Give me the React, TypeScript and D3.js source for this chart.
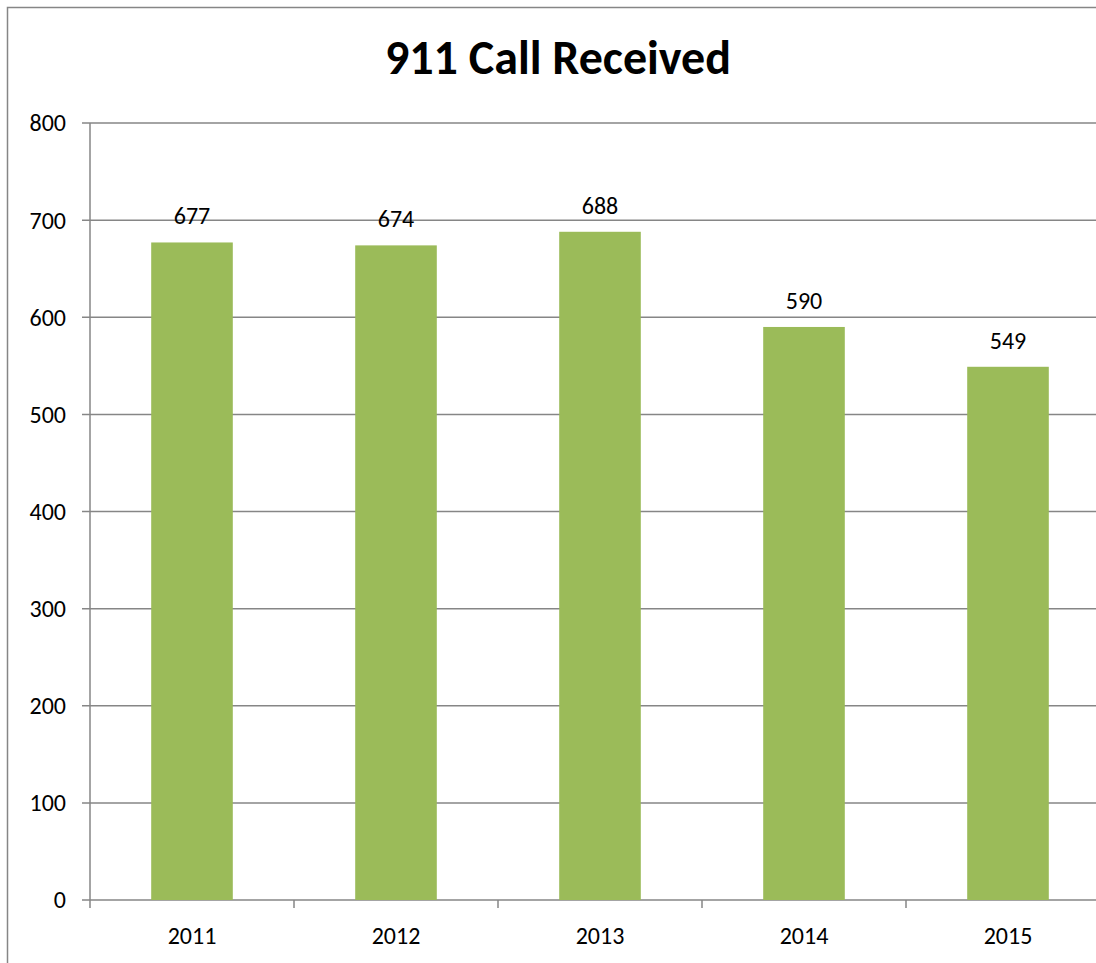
import React, { useEffect, useRef } from 'react';
import * as d3 from 'd3';

const years = ['2011', '2012', '2013', '2014', '2015'];
const calls = [677, 674, 688, 590, 549];
const yTicks = [0, 100, 200, 300, 400, 500, 600, 700, 800];

const App: React.FC = () => {
  const svgRef = useRef<SVGSVGElement>(null);

  useEffect(() => {
    if (!svgRef.current) return;
    const svg = d3.select(svgRef.current);
    svg.selectAll('*').remove();

    const width = 1096;
    const left = 90;
    const right = 1110;
    const top = 123;
    const bottom = 900;
    const font = 'Carlito, Calibri, "Open Sans", sans-serif';

    // outer chart border
    svg
      .append('rect')
      .attr('x', 7.5)
      .attr('y', 7.5)
      .attr('width', 1110)
      .attr('height', 980)
      .attr('fill', 'white')
      .attr('stroke', '#868686')
      .attr('stroke-width', 1.5);

    svg
      .append('text')
      .attr('x', 558)
      .attr('y', 74)
      .attr('text-anchor', 'middle')
      .attr('font-family', font)
      .attr('font-weight', 'bold')
      .attr('font-size', 48)
      .text('911 Call Received');

    const x = d3.scaleBand<string>().domain(years).range([left, right]).paddingInner(0.6).paddingOuter(0.3);
    const xb = d3.scaleBand<string>().domain(years).range([left, right]);
    const y = d3.scaleLinear().domain([0, 800]).range([bottom, top]);

    // gridlines + y labels
    const g = svg.append('g');
    yTicks.forEach((t) => {
      g.append('line')
        .attr('x1', left - 8)
        .attr('x2', width)
        .attr('y1', y(t))
        .attr('y2', y(t))
        .attr('stroke', '#868686')
        .attr('stroke-width', 1.5);
      g.append('text')
        .attr('x', 66)
        .attr('y', y(t))
        .attr('dy', '0.35em')
        .attr('text-anchor', 'end')
        .attr('font-family', font)
        .attr('font-size', 24)
        .text(t);
    });

    // y axis line
    svg
      .append('line')
      .attr('x1', left)
      .attr('x2', left)
      .attr('y1', top)
      .attr('y2', bottom + 8)
      .attr('stroke', '#868686')
      .attr('stroke-width', 1.5);

    // x ticks
    years.forEach((yr) => {
      const x0 = (xb(yr) as number) + xb.bandwidth();
      svg
        .append('line')
        .attr('x1', x0)
        .attr('x2', x0)
        .attr('y1', bottom)
        .attr('y2', bottom + 8)
        .attr('stroke', '#868686')
        .attr('stroke-width', 1.5);
    });

    // bars
    svg
      .selectAll('rect.bar')
      .data(calls)
      .enter()
      .append('rect')
      .attr('class', 'bar')
      .attr('x', (_, i) => x(years[i]) as number)
      .attr('width', x.bandwidth())
      .attr('y', (d) => y(d))
      .attr('height', (d) => bottom - y(d))
      .attr('fill', '#9BBB59');

    // value labels
    svg
      .selectAll('text.val')
      .data(calls)
      .enter()
      .append('text')
      .attr('class', 'val')
      .attr('x', (_, i) => (x(years[i]) as number) + x.bandwidth() / 2)
      .attr('y', (d) => y(d) - 18)
      .attr('text-anchor', 'middle')
      .attr('font-family', font)
      .attr('font-size', 24)
      .text((d) => d);

    // category labels
    svg
      .selectAll('text.cat')
      .data(years)
      .enter()
      .append('text')
      .attr('class', 'cat')
      .attr('x', (d) => (xb(d) as number) + xb.bandwidth() / 2)
      .attr('y', 944)
      .attr('text-anchor', 'middle')
      .attr('font-family', font)
      .attr('font-size', 24)
      .text((d) => d);
  }, []);

  return (
    <svg
      ref={svgRef}
      width={1096}
      height={963}
      style={{ position: 'absolute', left: 0, top: 0, display: 'block', background: 'white' }}
    ></svg>
  );
};

export default App;
